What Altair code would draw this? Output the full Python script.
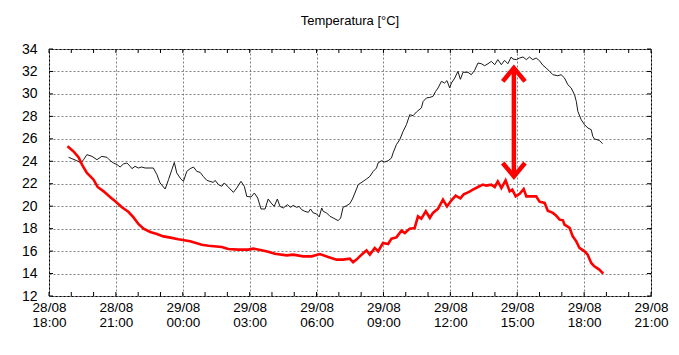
import altair as alt
import pandas as pd

# hours since 28/08 18:00
hours_black = [0.88, 1.03, 1.25, 1.43, 1.55, 1.70, 1.93, 2.15, 2.37, 2.60, 2.75, 2.89, 3.05, 3.19, 3.34,
               3.49, 3.64, 3.72, 3.86, 4.01, 4.16, 4.31, 4.68, 4.84, 4.98, 5.21, 5.36, 5.51, 5.62, 5.73,
               5.88, 6.03, 6.18, 6.33, 6.48, 6.63, 6.78, 6.92, 7.08, 7.22, 7.37, 7.45, 7.60, 7.75, 7.86,
               8.04, 8.27, 8.42, 8.61, 8.76, 8.87, 9.06, 9.21, 9.36, 9.51, 9.69, 9.83, 9.96, 10.10, 10.24,
               10.36, 10.51, 10.69, 10.84, 10.95, 11.11, 11.22, 11.33, 11.48, 11.63, 11.73, 11.85, 12.00,
               12.12, 12.23, 12.30, 12.45, 12.60, 12.75, 12.97, 13.08, 13.19, 13.35, 13.49, 13.61, 13.72,
               13.87, 14.09, 14.24, 14.39, 14.54, 14.69, 14.76, 14.91, 15.06, 15.21, 15.36, 15.43, 15.58,
               15.73, 15.88, 16.03, 16.18, 16.33, 16.48, 16.70, 16.78, 16.93, 17.08, 17.22, 17.34, 17.45,
               17.60, 17.74, 17.85, 17.97, 18.05, 18.20, 18.34, 18.45, 18.57, 18.79, 18.94, 19.09, 19.24,
               19.39, 19.54, 19.69, 19.84, 19.99, 20.13, 20.29, 20.43, 20.58, 20.73, 20.80, 20.96, 21.11,
               21.26, 21.41, 21.55, 21.70, 21.85, 22.00, 22.15, 22.30, 22.45, 22.60, 22.82, 22.97, 23.12,
               23.27, 23.42, 23.57, 23.65, 23.72, 23.87, 24.02, 24.17, 24.32, 24.39, 24.46, 24.68, 24.83]
temp_black = [24.35, 24.23, 24.05, 23.85, 24.14, 24.59, 24.44, 24.14, 24.44, 24.35, 24.05, 23.85, 23.70, 23.49, 23.76,
              23.85, 23.55, 23.34, 23.55, 23.40, 23.49, 23.40, 23.40, 22.81, 22.07, 21.53, 22.36, 23.25, 23.90, 22.96,
              22.51, 22.21, 23.10, 23.34, 23.49, 23.10, 23.01, 22.65, 22.30, 22.21, 22.12, 22.30, 21.92, 21.77, 22.07,
              21.71, 21.23, 21.62, 22.21, 21.77, 20.87, 20.82, 21.17, 20.73, 19.75, 19.75, 20.64, 20.29, 19.98, 20.64,
              19.98, 19.84, 20.13, 19.90, 20.07, 19.90, 19.98, 19.69, 19.54, 19.45, 19.75, 19.40, 19.31,
              19.04, 19.84, 19.54, 19.40, 19.10, 18.95, 18.71, 18.95, 19.90, 20.05, 20.22, 20.64, 21.17,
              21.92, 22.21, 22.42, 22.65, 23.10, 23.40, 23.85, 24.05, 23.94, 24.05, 24.29, 24.74, 25.48,
              25.92, 26.66, 27.26, 28.15, 28.06, 28.39, 28.75, 29.33, 29.64, 29.69, 29.78, 30.22, 30.53,
              31.12, 30.97, 31.18, 30.53, 30.97, 31.42, 32.01, 31.30, 31.93, 31.92, 31.71, 32.10, 32.75,
              32.69, 32.51, 32.69, 32.90, 32.60, 33.05, 32.60, 32.99, 32.69, 33.29, 33.11, 33.05, 33.20,
              33.29, 33.05, 33.29, 33.05, 33.20, 32.95, 32.55, 32.31, 32.01, 31.71, 31.62, 31.71, 31.42,
              30.82, 30.53, 29.93, 29.33, 28.44, 27.70, 27.26, 26.96, 26.81, 26.22, 25.99, 25.86, 25.57]

hours_red = [0.83, 1.10, 1.33, 1.48, 1.70, 2.00, 2.18, 2.45, 2.75, 2.97, 3.27, 3.57, 3.79, 4.01, 4.24,
             4.54, 4.84, 5.13, 5.45, 5.80, 6.33, 6.85, 7.15, 7.75, 8.04, 8.49, 8.94, 9.16, 9.54, 9.83,
             10.13, 10.66, 10.95, 11.40, 11.78, 12.15, 12.52, 12.90, 13.19, 13.49, 13.64, 13.79, 14.02,
             14.24, 14.39, 14.61, 14.76, 14.98, 15.21, 15.36, 15.58, 15.81, 15.96, 16.18, 16.40, 16.55,
             16.70, 16.90, 17.08, 17.22, 17.45, 17.67, 17.85, 18.05, 18.24, 18.45, 18.60, 18.84, 19.01,
             19.24, 19.46, 19.61, 19.84, 19.99, 20.13, 20.29, 20.48, 20.66, 20.78, 20.93, 21.11, 21.29,
             21.41, 21.63, 21.85, 22.00, 22.23, 22.37, 22.60, 22.75, 22.90, 23.05, 23.12, 23.35, 23.49,
             23.65, 23.79, 24.02, 24.16, 24.32, 24.46, 24.68, 24.86]
temp_red = [25.33, 24.88, 24.35, 23.70, 22.96, 22.36, 21.71, 21.32, 20.79, 20.43, 19.90, 19.48, 19.00, 18.42, 18.00,
            17.70, 17.53, 17.31, 17.20, 17.05, 16.87, 16.57, 16.48, 16.37, 16.19, 16.13, 16.13, 16.22, 16.07, 15.95,
            15.77, 15.62, 15.68, 15.53, 15.53, 15.74, 15.48, 15.24, 15.24, 15.33, 15.00, 15.24, 15.68,
            16.07, 15.68, 16.28, 15.98, 16.72, 16.63, 17.11, 17.22, 17.82, 17.61, 18.00, 18.06, 19.09,
            18.89, 19.54, 18.95, 19.40, 19.78, 20.58, 19.98, 20.52, 20.94, 20.70, 21.05, 21.28, 21.47,
            21.71, 21.92, 21.83, 21.92, 21.71, 22.21, 21.62, 22.30, 21.32, 21.47, 20.87, 21.11, 21.53,
            20.87, 20.87, 20.87, 20.40, 20.29, 19.60, 19.40, 19.16, 18.80, 18.74, 18.35, 18.06, 17.31,
            16.87, 16.28, 15.98, 15.68, 14.94, 14.64, 14.35, 13.99]

x_ticks = list(range(0, 28, 3))
y_ticks = list(range(12, 35, 2))
minor_hours = list(range(0, 28))

# annotation arrow (double-headed)
arrow_seg = ["shaft", "shaft", "top", "top", "top", "bot", "bot", "bot"]
arrow_ord = [0, 1, 0, 1, 2, 0, 1, 2]
arrow_h = [20.85, 20.85, 20.35, 20.85, 21.35, 20.35, 20.85, 21.35]
arrow_t = [22.75, 32.2, 31.12, 32.31, 31.12, 23.85, 22.65, 23.85]

W, H = 602, 247

black_df = pd.DataFrame({"h": hours_black, "t": temp_black})
red_df = pd.DataFrame({"h": hours_red, "t": temp_red})
arrow_df = pd.DataFrame({"h": arrow_h, "t": arrow_t, "seg": arrow_seg, "o": arrow_ord})
minor_df = pd.DataFrame({"h": minor_hours})
ytick_df = pd.DataFrame({"t": y_ticks})

x_scale = alt.Scale(domain=[0, 27], nice=False, zero=False)
y_scale = alt.Scale(domain=[12, 34], nice=False, zero=False)

label_expr = ("[(datum.value + 18 >= 24 ? '29/08' : '28/08'), "
              "(((datum.value + 18) % 24) < 10 ? '0' : '') + ((datum.value + 18) % 24) + ':00']")

x_axis = alt.Axis(values=x_ticks, labelExpr=label_expr, grid=True, ticks=False, domain=False,
                  labelFlush=False, labelOverlap=False, labelPadding=4, labelLineHeight=15,
                  labelFontSize=13.5, labelColor="black", title=None,
                  gridColor="#808080", gridDash=[2, 2], gridWidth=1, gridOpacity=1)
y_axis = alt.Axis(values=y_ticks, grid=True, ticks=False, domain=False, labelPadding=12,
                  labelFontSize=14, labelColor="black", title=None, labelOverlap=False,
                  labelFlush=False,
                  gridColor="#808080", gridDash=[2, 2], gridWidth=1, gridOpacity=1)

X = alt.X("h:Q", scale=x_scale, axis=x_axis)
Y = alt.Y("t:Q", scale=y_scale, axis=y_axis)

black_line = alt.Chart(black_df).mark_line(color="#1a1a1a", strokeWidth=1).encode(x=X, y=Y)
red_line = alt.Chart(red_df).mark_line(color="#ff0000", strokeWidth=2.6).encode(x=X, y=Y)
arrow = alt.Chart(arrow_df).mark_line(color="#ff0000", strokeWidth=4.5, strokeCap="butt",
                                      strokeJoin="miter").encode(
    x=X, y=Y, detail="seg:N", order="o:Q"
)
top_ticks = alt.Chart(minor_df).mark_rule(color="black", strokeWidth=1).encode(
    x=X, y=alt.value(0), y2=alt.value(4)
)
bottom_ticks = alt.Chart(minor_df).mark_rule(color="black", strokeWidth=1).encode(
    x=X, y=alt.value(H - 4), y2=alt.value(H)
)
left_ticks = alt.Chart(ytick_df).mark_rule(color="black", strokeWidth=1).encode(
    y=Y, x=alt.value(0), x2=alt.value(4)
)
right_ticks = alt.Chart(ytick_df).mark_rule(color="black", strokeWidth=1).encode(
    y=Y, x=alt.value(W - 4), x2=alt.value(W)
)

chart = alt.layer(
    black_line, red_line, arrow, top_ticks, bottom_ticks, left_ticks, right_ticks
).properties(
    width=W,
    height=H,
    background="white",
    autosize=alt.AutoSizeParams(type="none"),
    padding={"left": 41, "top": 41, "right": 20, "bottom": 51},
    title=alt.TitleParams("Temperatura [°C]", fontSize=13, fontWeight="normal",
                          font="Liberation Sans", color="black", offset=14, anchor="middle"),
).configure_view(
    stroke="black", strokeWidth=1
).configure_axis(
    labelFont="Liberation Sans"
)

chart.save("out.html", embed_options={"renderer": "svg", "actions": False})
